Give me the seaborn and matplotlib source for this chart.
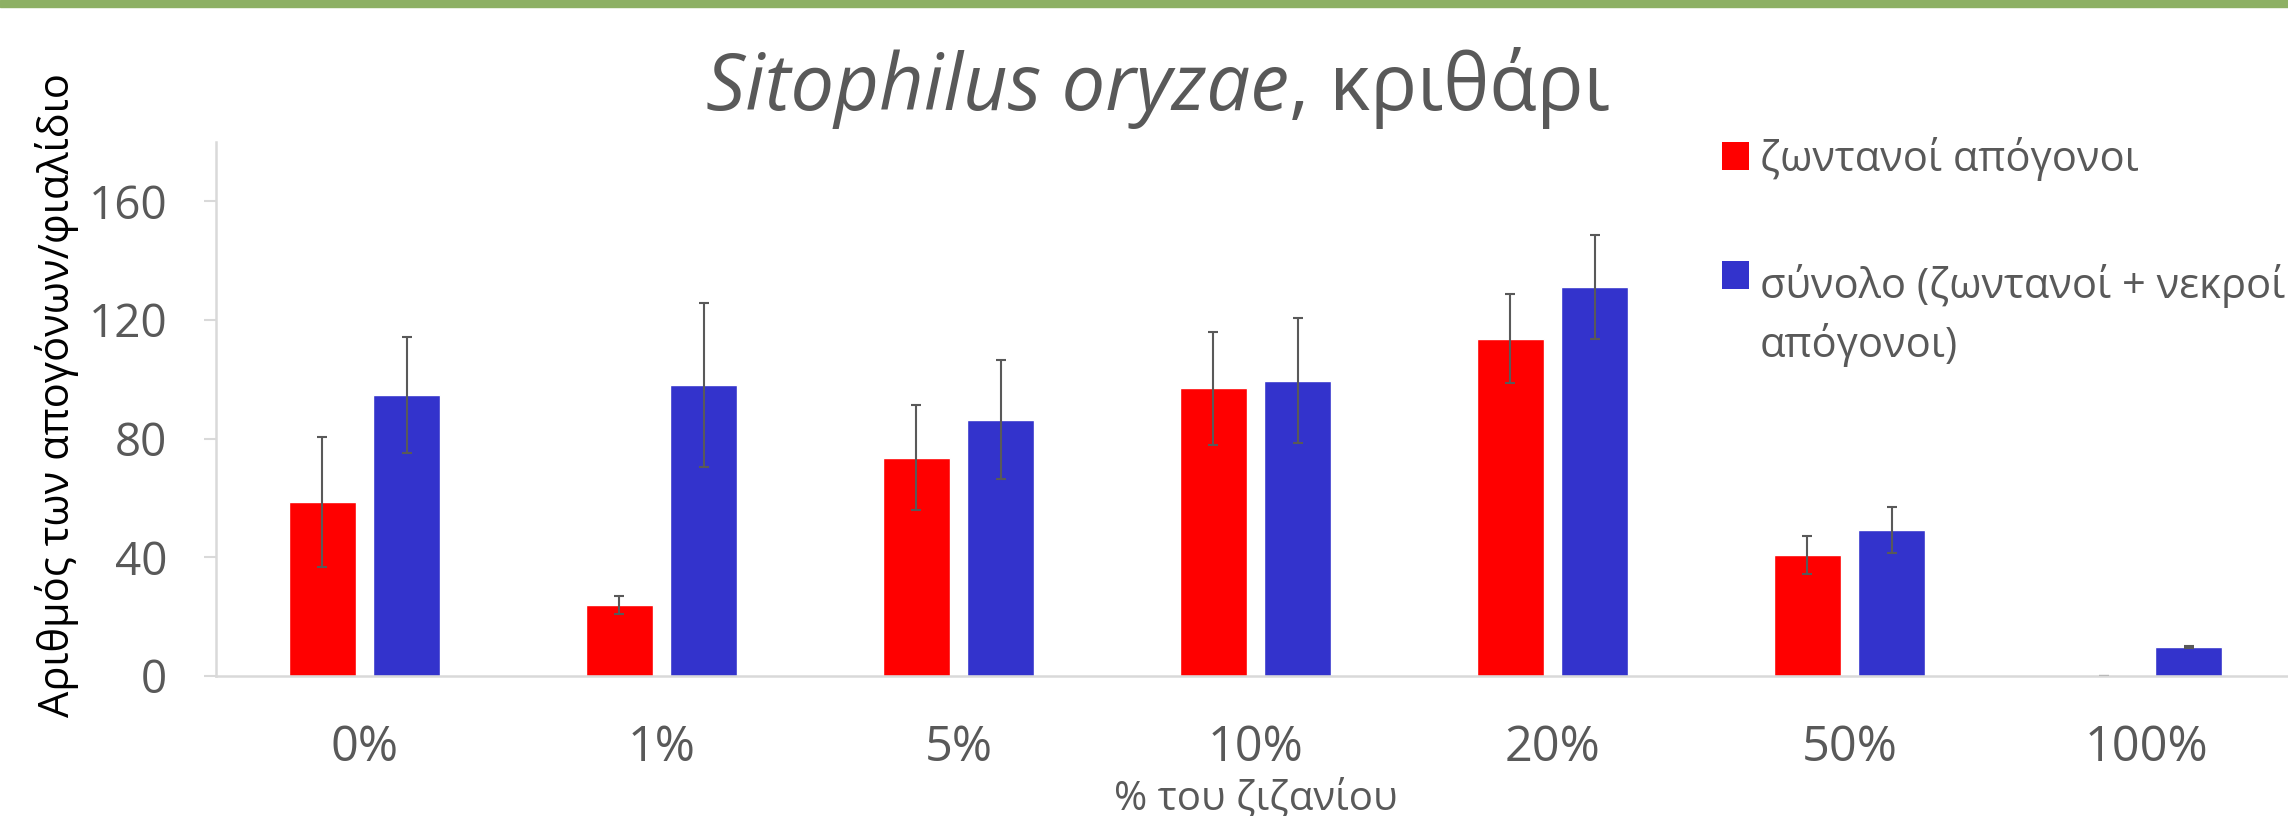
import numpy as np
import pandas as pd
import seaborn as sns
import matplotlib.pyplot as plt
from matplotlib.patches import Rectangle
from matplotlib.legend_handler import HandlerPatch

# Data
categories = ['0%', '1%', '5%', '10%', '20%', '50%', '100%']
series = ['ζωντανοί απόγονοι', 'σύνολο (ζωντανοί + νεκροί απόγονοι)']
live = [58.6, 23.9, 73.6, 97.0, 113.6, 40.8, 0.0]
live_err = [21.8, 3.0, 17.7, 19.0, 15.0, 6.4, 0.0]
total = [94.7, 98.1, 86.4, 99.5, 131.1, 49.1, 9.7]
total_err = [19.6, 27.5, 20.1, 21.0, 17.4, 7.8, 0.3]
legend_labels = ['ζωντανοί απόγονοι', 'σύνολο (ζωντανοί + νεκροί\nαπόγονοι)']
colors = ['#FF0000', '#3333CC']

df = pd.DataFrame({
    'cat': categories * 2,
    'series': [series[0]] * len(categories) + [series[1]] * len(categories),
    'value': live + total,
})
errs = [live_err, total_err]

sns.set_style('white')
plt.rcParams['font.family'] = ['Open Sans', 'DejaVu Sans']

grey = '#595959'
fig = plt.figure(figsize=(22.88, 8.16), dpi=100)
ax = fig.add_axes([0.0944, 0.1716, 0.9087, 0.6544])

sns.barplot(data=df, x='cat', y='value', hue='series', hue_order=series,
            palette=colors, width=0.57, gap=0.21,
            errorbar=None, legend=False, saturation=1, ax=ax)

# Error bars on top of the bars seaborn drew
for cont, err in zip(ax.containers, errs):
    xs = [p.get_x() + p.get_width() / 2 for p in cont]
    ys = [p.get_height() for p in cont]
    ax.errorbar(xs, ys, yerr=err, fmt='none', ecolor=grey, elinewidth=1.5,
                capsize=3.5, capthick=1.5)

ax.set_xlim(-0.5, 6.5)
ax.set_ylim(0, 180)
ax.set_yticks([0, 40, 80, 120, 160])
ax.tick_params(axis='y', length=9, width=1.5, color='#D9D9D9', pad=26,
               labelsize=33, labelcolor=grey, left=True)
ax.tick_params(axis='x', length=0, pad=34, labelsize=35, labelcolor=grey)
for s in ['top', 'right']:
    ax.spines[s].set_visible(False)
for s in ['left', 'bottom']:
    ax.spines[s].set_color('#D9D9D9')
    ax.spines[s].set_linewidth(1.8)

ax.set_xlabel('% του ζιζανίου', fontsize=29, color=grey)
ax.xaxis.set_label_coords(0.5, -0.192)
ax.set_ylabel('Αριθμός των απογόνων/φιαλίδιο', fontsize=30, color='black')
ax.yaxis.set_label_coords(-0.066, 0.526)

# legend: square sits next to the first line of a two-line label
leg_fs = 30
line_pt = 30


def first_line_square(legend, orig_handle, xdescent, ydescent, width, height, fontsize):
    return Rectangle((-xdescent, -ydescent + line_pt), width, height)


handles = [Rectangle((0, 0), 1, 1, facecolor=c, edgecolor='none') for c in colors]
leg = ax.legend(handles, legend_labels, loc='upper left',
                bbox_to_anchor=(1722 / 2288, 1 - 137 / 816),
                bbox_transform=fig.transFigure, frameon=False, fontsize=leg_fs,
                handlelength=0.65, handleheight=0.65, handletextpad=0.25,
                labelspacing=2.0, borderpad=0, borderaxespad=0,
                handler_map={handles[1]: HandlerPatch(patch_func=first_line_square)})
for t in leg.get_texts():
    t.set_color(grey)
    t.set_linespacing(1.43)

# green band at the very top
fig.patches.append(Rectangle((0, 1 - 7 / 816), 1, 7 / 816, transform=fig.transFigure,
                             color='#8DB064', zorder=5))

# title: italic species name + regular rest
t1 = fig.text(0, 1 - 110 / 816, 'Sitophilus oryzae', fontsize=56, style='italic',
              color=grey, va='baseline')
t2 = fig.text(0, 1 - 110 / 816, ', κριθάρι', fontsize=56, color=grey, va='baseline')
fig.canvas.draw()
r = fig.canvas.get_renderer()
w1 = t1.get_window_extent(r).width
w2 = t2.get_window_extent(r).width
x0 = 1158 - (w1 + w2) / 2
t1.set_x(x0 / 2288)
t2.set_x((x0 + w1) / 2288)

fig.savefig('out.png', dpi=100)
